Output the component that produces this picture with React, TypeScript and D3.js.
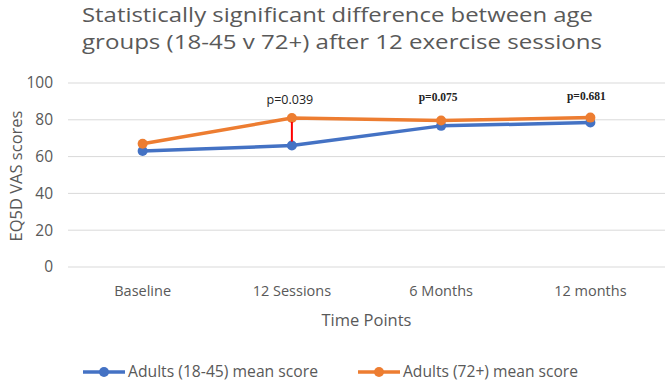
import React from "react";
import * as d3 from "d3";

const categories = ["Baseline", "12 Sessions", "6 Months", "12 months"];
const youngScores = [63, 66, 76.7, 78.5];
const oldScores = [67, 81, 79.6, 81.2];
const yTicks = [0, 20, 40, 60, 80, 100];
const pLabels = ["", "p=0.039", "p=0.075", "p=0.681"];
const seriesNames = ["Adults (18-45) mean score", "Adults (72+) mean score"];
const titleLines = [
  "Statistically significant difference between age",
  "groups (18-45 v 72+) after 12 exercise sessions",
];

const W = 667;
const H = 383;
const left = 68;
const right = 665;
const top = 83;
const bottom = 267;
const BLUE = "#4472C4";
const ORANGE = "#ED7D31";
const TXT = "#595959";
const FONT = "'Open Sans', 'Noto Sans', sans-serif";

export default function App() {
  const x = d3.scaleBand().domain(categories).range([left, right]);
  const y = d3.scaleLinear().domain([0, 100]).range([bottom, top]);
  const cx = (c: string) => (x(c) as number) + x.bandwidth() / 2;
  const line = d3
    .line<number>()
    .x((_, i) => cx(categories[i]))
    .y((d) => y(d));

  return (
    <svg
      width={W}
      height={H}
      style={{ position: "absolute", left: 0, top: 0, background: "#fff" }}
    >
      <rect width={W} height={H} fill="#fff" />
      <text x={82} y={22} fontFamily={FONT} fontSize={19.5} fill={TXT} textLength={511} lengthAdjust="spacingAndGlyphs">
        {titleLines[0]}
      </text>
      <text x={82} y={48.6} fontFamily={FONT} fontSize={19.5} fill={TXT} textLength={520} lengthAdjust="spacingAndGlyphs">
        {titleLines[1]}
      </text>

      {yTicks.map((t) => (
        <g key={t}>
          <line x1={left} x2={right} y1={y(t)} y2={y(t)} stroke="#d9d9d9" strokeWidth={1} />
          <text
            x={53}
            y={y(t)}
            dy="0.35em"
            textAnchor="end"
            fontFamily={FONT}
            fontSize={15.5}
            fill={TXT}
          >
            {t}
          </text>
        </g>
      ))}

      <text
        transform={`translate(16,176) rotate(-90)`}
        dy="0.35em"
        textAnchor="middle"
        fontFamily={FONT}
        fontSize={16.5}
        fill={TXT}
      >
        EQ5D VAS scores
      </text>

      {categories.map((c) => (
        <text key={c} x={cx(c)} y={291} dy="0.35em" textAnchor="middle" fontFamily={FONT} fontSize={14.5} fill={TXT}>
          {c}
        </text>
      ))}
      <text x={(left + right) / 2} y={320} dy="0.35em" textAnchor="middle" fontFamily={FONT} fontSize={16.5} fill={TXT}>
        Time Points
      </text>

      <path d={line(youngScores) || ""} fill="none" stroke={BLUE} strokeWidth={3.5} strokeLinejoin="round" />
      <path d={line(oldScores) || ""} fill="none" stroke={ORANGE} strokeWidth={3.5} strokeLinejoin="round" />
      {youngScores.map((v, i) => (
        <circle key={"b" + i} cx={cx(categories[i])} cy={y(v)} r={5} fill={BLUE} />
      ))}
      {oldScores.map((v, i) => (
        <circle key={"o" + i} cx={cx(categories[i])} cy={y(v)} r={5} fill={ORANGE} />
      ))}

      <line
        x1={cx(categories[1])}
        x2={cx(categories[1])}
        y1={y(oldScores[1]) + 4}
        y2={y(youngScores[1]) - 4}
        stroke="#FF0000"
        strokeWidth={2}
      />

      <text x={cx(categories[1]) - 2} y={100} dy="0.35em" textAnchor="middle" fontFamily={FONT} fontSize={12.5} fill="#222">
        {pLabels[1]}
      </text>
      <text
        x={cx(categories[2]) - 3}
        y={97}
        dy="0.35em"
        textAnchor="middle"
        fontFamily="'Liberation Serif', 'DejaVu Serif', serif"
        fontWeight="bold"
        fontSize={11.5}
        fill="#222"
      >
        {pLabels[2]}
      </text>
      <text
        x={cx(categories[3]) - 4}
        y={96}
        dy="0.35em"
        textAnchor="middle"
        fontFamily="'Liberation Serif', 'DejaVu Serif', serif"
        fontWeight="bold"
        fontSize={11.5}
        fill="#222"
      >
        {pLabels[3]}
      </text>

      {[
        { x0: 83, color: BLUE, label: seriesNames[0], w: 190 },
        { x0: 358, color: ORANGE, label: seriesNames[1], w: 175 },
      ].map((l) => (
        <g key={l.label}>
          <line x1={l.x0} x2={l.x0 + 42} y1={372} y2={372} stroke={l.color} strokeWidth={3.5} />
          <circle cx={l.x0 + 21} cy={372} r={5} fill={l.color} />
          <text
            x={l.x0 + 45}
            y={372}
            dy="0.35em"
            fontFamily={FONT}
            fontSize={15.5}
            fill={TXT}
            textLength={l.w}
            lengthAdjust="spacingAndGlyphs"
          >
            {l.label}
          </text>
        </g>
      ))}
    </svg>
  );
}
